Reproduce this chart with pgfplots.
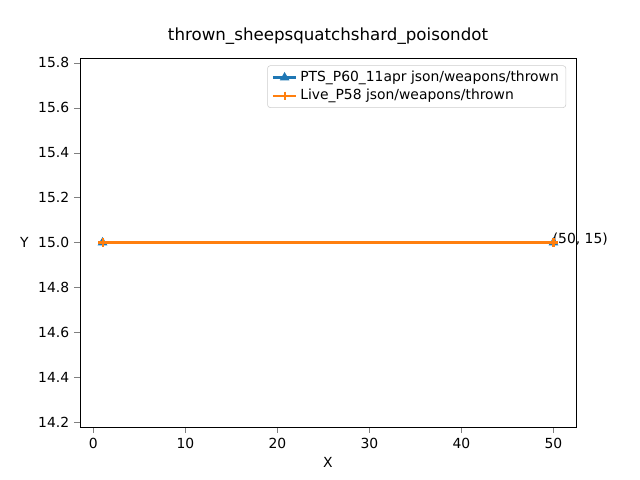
\documentclass[border=0pt]{standalone}
\usepackage{pgfplots}
\pgfplotsset{compat=1.18}
\usepackage{fontspec}
\setmainfont{DejaVu Sans}
\begin{document}
\begin{tikzpicture}
\path[use as bounding box] (0pt,0pt) rectangle (460.8pt,345.6pt);
\begin{axis}[at={(57.6pt,38.16pt)}, anchor=south west, scale only axis, clip=false,
 width=357.12pt, height=265.68pt,
 xmin=-1.45, xmax=52.45, ymin=14.178, ymax=15.822,
 xtick={0,10,20,30,40,50}, ytick={14.2,14.4,14.6,14.8,15.0,15.2,15.4,15.6,15.8},
 yticklabel style={/pgf/number format/.cd,fixed,fixed zerofill,precision=1},
 /pgf/number format/assume math mode=true,
 tick label style={font=\fontsize{10}{12}\selectfont},
 tick align=outside, tick pos=left,
 title={thrown\_sheepsquatchshard\_poisondot}, title style={font=\fontsize{12}{14}\selectfont},
 xlabel={X}, ylabel={Y}, ylabel style={rotate=-90},
 legend style={at={(0.98,0.98)}, anchor=north east, font=\fontsize{10}{12}\selectfont, draw=black!20, rounded corners=2pt},
 legend cell align=left]
\addplot[color={rgb,255:red,31;green,119;blue,180}, line width=1.5pt, mark=triangle*, mark size=2.5pt] coordinates {(1,15) (50,15)};
\addlegendentry{PTS\_P60\_11apr json/weapons/thrown}
\addplot[color={rgb,255:red,255;green,127;blue,14}, line width=1.5pt, mark=+, mark size=3pt] coordinates {(1,15) (50,15)};
\addlegendentry{Live\_P58 json/weapons/thrown}
\node[anchor=south west, font=\fontsize{10}{12}\selectfont, inner sep=0pt] at (axis cs:49.9,14.985) {(50, 15)};
\end{axis}
\end{tikzpicture}
\end{document}
